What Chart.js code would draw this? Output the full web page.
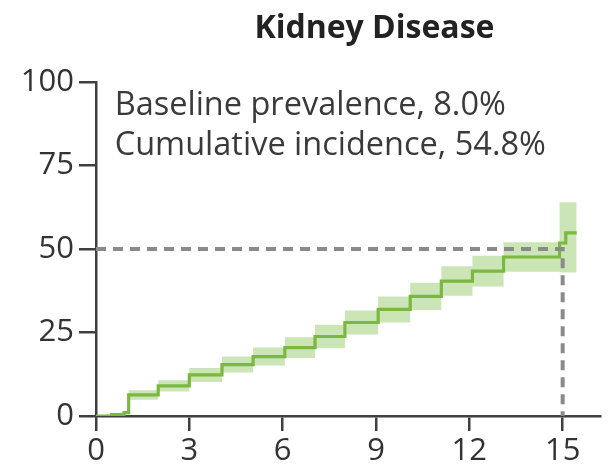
<!DOCTYPE html>
<html>
<head>
<meta charset="utf-8">
<script src="https://cdn.jsdelivr.net/npm/chart.js@4.4.1/dist/chart.umd.min.js"></script>
<style>
  html, body { margin: 0; padding: 0; background: #ffffff; }
  #wrap { width: 613px; height: 475px; position: relative; }
</style>
</head>
<body>
<div id="wrap"><canvas id="c" width="613" height="475"></canvas></div>
<script>
// ---- Data ----
const chartTitle = 'Kidney Disease';
const noteLines = ['Baseline prevalence, 8.0%', 'Cumulative incidence, 54.8%'];
const years      = [0, 0.5, 0.9, 1.05, 2.0, 3.0, 4.05, 5.05, 6.07, 7.04, 8.0, 9.07, 10.1, 11.1, 12.1, 13.1, 14.9, 15.1, 15.45];
const incidence  = [0, 0.4, 1.0, 6.3, 9.0, 12.3, 15.4, 17.8, 20.5, 23.8, 28.0, 31.9, 35.8, 40.4, 43.4, 47.6, 51.8, 54.8, 54.8];
const lowerCI    = [0, 0.2, 0.6, 4.9, 7.3, 10.2, 13.0, 15.1, 17.4, 20.3, 24.4, 28.0, 31.7, 36.0, 38.8, 43.2, 43.0, 43.0, 43.0];
const upperCI    = [0, 0.6, 1.4, 7.7, 10.7, 14.4, 17.8, 20.5, 23.6, 27.3, 31.6, 35.8, 39.9, 44.8, 48.0, 52.0, 64.0, 64.0, 64.0];
const refX = [0, 15, 15];
const refY = [50, 50, 0];
const xTicks = [0, 3, 6, 9, 12, 15];
const yTicks = [0, 25, 50, 75, 100];

const pts = (xs, ys) => xs.map((x, i) => ({ x: x, y: ys[i] }));

const GREEN = 'rgb(122,184,64)';
const BAND = 'rgba(130,192,80,0.42)';
const AXIS = '#3f3f3f';
const FONT = '"Open Sans", "Noto Sans", sans-serif';

const textPlugin = {
  id: 'textPlugin',
  afterDraw(chart) {
    const ctx = chart.ctx;
    const xs = chart.scales.x, ys = chart.scales.y;
    ctx.save();
    ctx.fillStyle = '#222';
    ctx.font = 'bold 32px ' + FONT;
    ctx.textAlign = 'center';
    ctx.textBaseline = 'alphabetic';
    ctx.fillText(chartTitle, xs.getPixelForValue(8.95), 38);
    ctx.fillStyle = '#3a3a3a';
    ctx.font = '32.5px ' + FONT;
    ctx.textAlign = 'left';
    ctx.fillText(noteLines[0], xs.getPixelForValue(0.6), ys.getPixelForValue(90.1));
    ctx.fillText(noteLines[1], xs.getPixelForValue(0.6), ys.getPixelForValue(78.1));
    ctx.restore();
  }
};

new Chart(document.getElementById('c'), {
  type: 'line',
  data: {
    datasets: [
      { data: pts(refX, refY), borderColor: '#8a8a8a', borderWidth: 4, borderDash: [10, 7],
        pointRadius: 0, fill: false, order: 0 },
      { data: pts(years, incidence), borderColor: GREEN, borderWidth: 3.2, stepped: true,
        pointRadius: 0, fill: false, order: 1 },
      { data: pts(years, upperCI), borderColor: 'rgba(0,0,0,0)', borderWidth: 0, stepped: true,
        pointRadius: 0, backgroundColor: BAND, fill: '+1', order: 2 },
      { data: pts(years, lowerCI), borderColor: 'rgba(0,0,0,0)', borderWidth: 0, stepped: true,
        pointRadius: 0, fill: false, order: 3 }
    ]
  },
  options: {
    responsive: false,
    animation: false,
    events: [],
    layout: { padding: { top: 82, right: 13, left: 0, bottom: 0 } },
    plugins: { legend: { display: false }, tooltip: { enabled: false }, title: { display: false } },
    scales: {
      x: {
        type: 'linear', min: 0, max: 16.2,
        afterBuildTicks: s => { s.ticks = xTicks.map(v => ({ value: v })); },
        afterFit: s => { s.height = 59; },
        grid: { drawOnChartArea: false, drawTicks: true, tickLength: 15, color: AXIS, lineWidth: 2.5 },
        border: { display: true, color: AXIS, width: 2.5 },
        ticks: { color: '#333', padding: 2, maxRotation: 0, font: { family: FONT, size: 31 } }
      },
      y: {
        type: 'linear', min: 0, max: 100,
        afterBuildTicks: s => { s.ticks = yTicks.map(v => ({ value: v })); },
        afterFit: s => { s.width = 96; },
        grid: { drawOnChartArea: false, drawTicks: true, tickLength: 17, color: AXIS, lineWidth: 2.5 },
        border: { display: true, color: AXIS, width: 2.5 },
        ticks: { color: '#333', padding: 5, font: { family: FONT, size: 31 } }
      }
    }
  },
  plugins: [textPlugin]
});
</script>
</body>
</html>
